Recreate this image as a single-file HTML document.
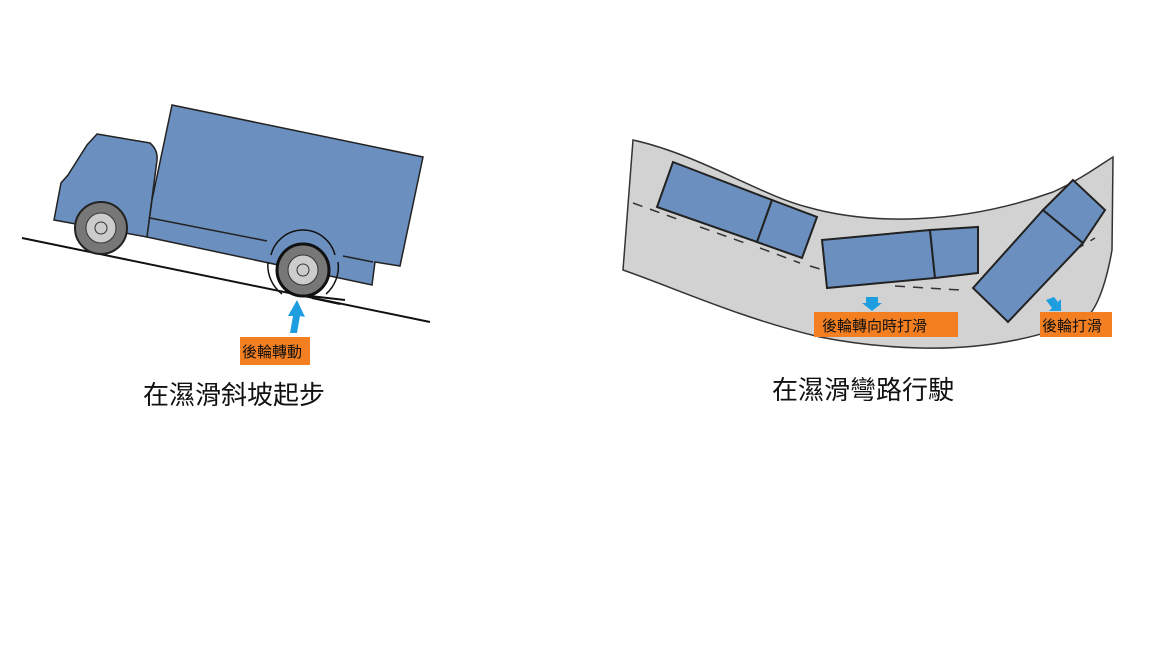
<!DOCTYPE html>
<html><head><meta charset="utf-8"><style>
html,body{margin:0;padding:0;background:#fff;width:1152px;height:648px;overflow:hidden}
svg{display:block}
text{font-family:"Liberation Sans","Noto Sans CJK TC",sans-serif}
</style></head><body>
<svg width="1152" height="648" viewBox="0 0 1152 648" xmlns="http://www.w3.org/2000/svg">
<!-- LEFT -->
<line x1="22" y1="238" x2="430" y2="322" stroke="#111" stroke-width="2"/>
<path d="M97,134 L150,143 Q158,150 157,160 L147,237 L54,220 L61,183 L68,175 L87,145 Z" fill="#6b8fbe" stroke="#222" stroke-width="1.5"/>
<polygon points="172,105 423,157 400,266 375,262 372,285 147,237 152,200" fill="#6b8fbe" stroke="#222" stroke-width="1.5"/>
<line x1="150" y1="218" x2="267" y2="241" stroke="#222" stroke-width="1.5"/>
<line x1="343" y1="256" x2="373" y2="262" stroke="#222" stroke-width="1.5"/>
<circle cx="101" cy="228" r="26" fill="#777" stroke="#222" stroke-width="2"/>
<circle cx="101" cy="228" r="15" fill="#ccc" stroke="#333"/>
<circle cx="101" cy="228" r="6" fill="#ccc" stroke="#333"/>
<path d="M271,255 A33,33 0 0 1 335,255 M268,262 A36,36 0 0 0 282,294 M338,262 A36,36 0 0 1 326,294" fill="none" stroke="#111" stroke-width="1.5"/>
<circle cx="303" cy="270" r="26" fill="#777" stroke="#111" stroke-width="3"/>
<circle cx="303" cy="270" r="15" fill="#ccc" stroke="#333"/>
<circle cx="303" cy="270" r="6" fill="#ccc" stroke="#333"/>
<path d="M310,296 L345,300 M312,298 L340,304" stroke="#111" stroke-width="2"/>
<polygon points="297,300 288,316 293,316 290,333 297,333 300,316 305,317" fill="#1e9ee0"/>
<rect x="240" y="337" width="70" height="28" fill="#f47f20"/>
<text x="242" y="357" font-size="15" fill="#111">後輪轉動</text>
<text x="234" y="404" font-size="26" text-anchor="middle" fill="#111">在濕滑斜坡起步</text>
<!-- RIGHT -->
<path d="M633,140 C700,155 760,195 807,207 C870,225 960,225 1053,192 C1080,180 1100,165 1113,157 L1112,250 C1105,290 1095,310 1087,317 C1050,335 990,350 920,348 C880,347 850,343 820,337 C740,318 680,290 623,270 Z" fill="#d2d2d2" stroke="#333" stroke-width="1.5"/>
<path d="M633,203 L680,220 M700,227 L745,243 M760,248 L800,263 M810,266 L830,272 M895,286 L960,290 M1075,250 L1095,238" stroke="#333" stroke-width="1.5" stroke-dasharray="10,8" fill="none"/>
<polygon points="673,162 772,200 757,242 657,207" fill="#6b8fbe" stroke="#222" stroke-width="2"/>
<polygon points="772,200 817,217 802,258 757,242" fill="#6b8fbe" stroke="#222" stroke-width="2"/>
<polygon points="822,240 930,230 935,278 827,288" fill="#6b8fbe" stroke="#222" stroke-width="2"/>
<polygon points="930,230 978,227 978,273 935,278" fill="#6b8fbe" stroke="#222" stroke-width="2"/>
<polygon points="973,288 1043,210 1083,243 1008,322" fill="#6b8fbe" stroke="#222" stroke-width="2"/>
<polygon points="1043,210 1073,180 1105,210 1083,243" fill="#6b8fbe" stroke="#222" stroke-width="2"/>
<polygon points="866,297 878,297 878,303 882,303 872,311 862,303 866,303" fill="#1e9ee0"/>
<polygon points="1046,300 1054,297 1058,302 1061,299 1061,311 1049,311 1052,308" fill="#1e9ee0"/>
<rect x="814" y="312" width="144" height="25" fill="#f47f20"/>
<text x="822" y="331" font-size="15" fill="#111">後輪轉向時打滑</text>
<rect x="1040" y="312" width="72" height="25" fill="#f47f20"/>
<text x="1042" y="331" font-size="15" fill="#111">後輪打滑</text>
<text x="863" y="399" font-size="26" text-anchor="middle" fill="#111">在濕滑彎路行駛</text>
</svg>
</body></html>
